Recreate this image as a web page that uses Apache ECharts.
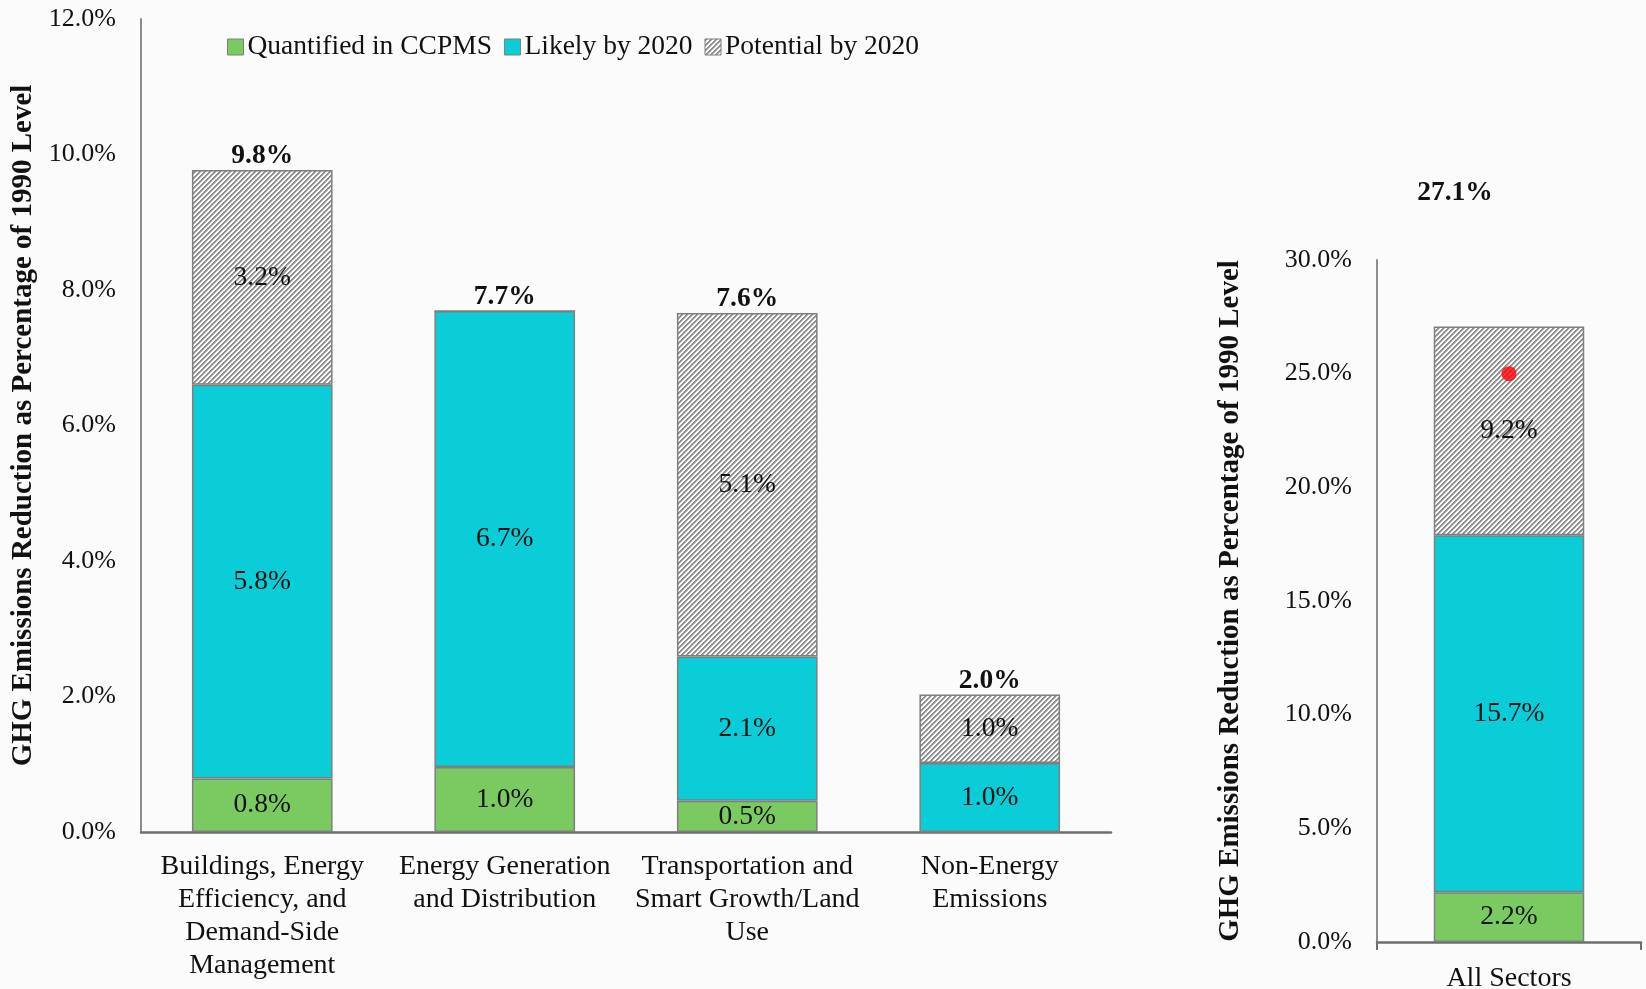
<!DOCTYPE html>
<html>
<head>
<meta charset="utf-8">
<script src="https://cdn.jsdelivr.net/npm/echarts@6/dist/echarts.min.js"></script>
<style>
html,body{margin:0;padding:0;background:#fbfbfb;}
#chart{width:1646px;height:989px;}
</style>
</head>
<body>
<div id="chart"></div>
<script>
// ---- data ----
const categories = ['Buildings, Energy\nEfficiency, and\nDemand-Side\nManagement', 'Energy Generation\nand Distribution', 'Transportation and\nSmart Growth/Land\nUse', 'Non-Energy\nEmissions'];
const quantified = [0.79, 0.96, 0.46, 0];
const likely = [5.81, 6.73, 2.13, 1.02];
const potential = [3.17, 0, 5.07, 1.01];
const totals = [9.8, 7.7, 7.6, 2.0];

const allCategories = ['All Sectors'];
const allQuantified = [2.19];
const allLikely = [15.70];
const allPotential = [9.19];
const allTotals = [27.1];
const target = [25.0];

const leftTicks = {min: 0, max: 12, interval: 2};
const rightTicks = {min: 0, max: 30, interval: 5};
const seriesNames = ['Quantified in CCPMS', 'Likely by 2020', 'Potential by 2020'];

// ---- hatch pattern ----
function makeHatch() {
  const n = 5;
  const c = document.createElement('canvas');
  c.width = n; c.height = n;
  const ctx = c.getContext('2d');
  for (let x = 0; x < n; x++) {
    for (let y = 0; y < n; y++) {
      const k = (x + y) % n;
      ctx.fillStyle = (k === 0 || k === 1) ? '#8f8f8f' : (k === 2 ? '#c4c4c4' : '#ffffff');
      ctx.fillRect(x, y, 1, 1);
    }
  }
  return c;
}
const hatch = {image: makeHatch(), repeat: 'repeat'};

const FONT = 'Liberation Serif';
const GREEN = '#7aca61';
const CYAN = '#0bcdd7';
const BORDER = '#7f7f7f';
const TXT = '#111111';

function insideLabel() {
  return {
    show: true, position: 'inside', color: TXT, fontFamily: FONT, fontSize: 27.5,
    formatter: p => p.value > 0 ? p.value.toFixed(1) + '%' : ''
  };
}
function barItem(color) {
  return {color: color, borderColor: BORDER, borderWidth: 1.5};
}

function stackSeries(axisIdx, q, l, p, tot, barWidth, totalLabelExtra) {
  const stack = 's' + axisIdx;
  return [
    {name: seriesNames[0], type: 'bar', stack, xAxisIndex: axisIdx, yAxisIndex: axisIdx, barWidth,
     data: q, itemStyle: barItem(GREEN), label: insideLabel()},
    {name: seriesNames[1], type: 'bar', stack, xAxisIndex: axisIdx, yAxisIndex: axisIdx, barWidth,
     data: l, itemStyle: barItem(CYAN), label: insideLabel()},
    {name: seriesNames[2], type: 'bar', stack, xAxisIndex: axisIdx, yAxisIndex: axisIdx, barWidth,
     data: p, itemStyle: barItem(hatch), label: insideLabel()},
    {name: 'Total', type: 'bar', stack, xAxisIndex: axisIdx, yAxisIndex: axisIdx, barWidth,
     data: tot.map(() => 0), itemStyle: {color: 'transparent'},
     label: Object.assign({
       show: true, position: 'top', distance: 0, color: TXT, fontFamily: FONT, fontSize: 27.5, fontWeight: 'bold',
       formatter: pp => tot[pp.dataIndex].toFixed(1) + '%'
     }, totalLabelExtra || {})}
  ];
}

const yName = 'GHG Emissions Reduction as Percentage of 1990 Level';

const option = {
  backgroundColor: '#fbfbfb',
  animation: false,
  textStyle: {fontFamily: FONT},
  legend: {
    data: seriesNames.map(n => ({name: n, icon: 'rect', itemStyle: {borderColor: BORDER, borderWidth: 1}})),
    left: 222, top: 28,
    itemWidth: 16, itemHeight: 16, itemGap: 12,
    textStyle: {fontFamily: FONT, fontSize: 27.5, color: TXT, padding: [0, 0, 0, -1]}
  },
  grid: [
    {left: 141, top: 19, right: 535, bottom: 157, containLabel: false, outerBoundsMode: 'none'},
    {left: 1377, top: 260, right: 5, bottom: 47, containLabel: false, outerBoundsMode: 'none'}
  ],
  xAxis: [
    {type: 'category', gridIndex: 0, data: categories,
     axisLine: {lineStyle: {color: '#6e6e6e', width: 2.5}},
     axisTick: {show: false},
     axisLabel: {color: TXT, fontFamily: FONT, fontSize: 28, lineHeight: 33, margin: 18, interval: 0}},
    {type: 'category', gridIndex: 1, data: allCategories,
     axisLine: {lineStyle: {color: '#6e6e6e', width: 2.5}},
     axisTick: {show: true, length: 8, lineStyle: {color: '#6e6e6e', width: 2}},
     axisLabel: {color: TXT, fontFamily: FONT, fontSize: 28, lineHeight: 33, margin: 20}}
  ],
  yAxis: [
    {type: 'value', gridIndex: 0, min: leftTicks.min, max: leftTicks.max, interval: leftTicks.interval,
     name: yName, nameLocation: 'middle', nameGap: 101, nameRotate: 90,
     nameTextStyle: {fontFamily: FONT, fontSize: 29, fontWeight: 'bold', color: TXT},
     axisLine: {show: true, lineStyle: {color: '#8c8c8c', width: 2}},
     axisTick: {show: false}, splitLine: {show: false},
     axisLabel: {color: TXT, fontFamily: FONT, fontSize: 26, margin: 25, formatter: v => v.toFixed(1) + '%'}},
    {type: 'value', gridIndex: 1, min: rightTicks.min, max: rightTicks.max, interval: rightTicks.interval,
     name: yName, nameLocation: 'middle', nameGap: 132, nameRotate: 90,
     nameTextStyle: {fontFamily: FONT, fontSize: 29, fontWeight: 'bold', color: TXT},
     axisLine: {show: true, lineStyle: {color: '#8c8c8c', width: 2}},
     axisTick: {show: false}, splitLine: {show: false},
     axisLabel: {color: TXT, fontFamily: FONT, fontSize: 26, margin: 25, formatter: v => v.toFixed(1) + '%'}}
  ],
  series: [
    ...stackSeries(0, quantified, likely, potential, totals, '58%'),
    ...stackSeries(1, allQuantified, allLikely, allPotential, allTotals, '57%', {offset: [-54, -119]}),
    {name: 'Target', type: 'scatter', xAxisIndex: 1, yAxisIndex: 1, data: target,
     symbolSize: 15, itemStyle: {color: '#ff0000'}, z: 5}
  ]
};

const chart = echarts.init(document.getElementById('chart'), null, {renderer: 'canvas'});
chart.setOption(option);
</script>
</body>
</html>
